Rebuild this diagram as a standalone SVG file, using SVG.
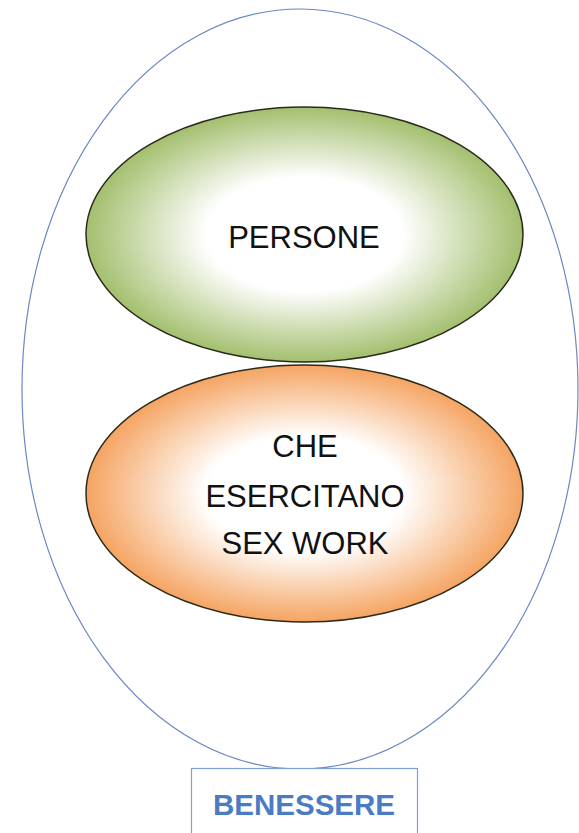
<svg xmlns="http://www.w3.org/2000/svg" width="579" height="833" viewBox="0 0 579 833">
<style>
.lbl{font-family:"Liberation Sans",Arial,sans-serif;font-size:31px;fill:#111;text-anchor:middle}
.ben{font-family:"Liberation Sans",Arial,sans-serif;font-size:29.5px;font-weight:bold;fill:#4a7cc4;text-anchor:middle}
.inner{stroke:#2a2a1a;stroke-width:1.5}
</style>
<defs>
<radialGradient id="gGreen" cx="50%" cy="50%" r="50%">
<stop offset="0" stop-color="#ffffff"/>
<stop offset="0.45" stop-color="#ffffff"/>
<stop offset="1" stop-color="#a3bf6e"/>
</radialGradient>
<radialGradient id="gOrange" cx="50%" cy="50%" r="50%">
<stop offset="0" stop-color="#ffffff"/>
<stop offset="0.45" stop-color="#ffffff"/>
<stop offset="1" stop-color="#f5a462"/>
</radialGradient>
</defs>
<rect width="579" height="833" fill="#ffffff"/>
<g id="benessere-area">
<ellipse cx="300" cy="389" rx="278" ry="380" fill="none" stroke="#6a87c6" stroke-width="1.2"/>
</g>
<g id="persone">
<ellipse class="inner" cx="304.5" cy="234.5" rx="218.5" ry="127.5" fill="url(#gGreen)"/>
<text class="lbl" x="304" y="248">PERSONE</text>
</g>
<g id="sexwork">
<ellipse class="inner" cx="304.5" cy="493.5" rx="218.5" ry="128.5" fill="url(#gOrange)"/>
<text class="lbl" x="305" y="457">CHE</text>
<text class="lbl" x="305" y="507">ESERCITANO</text>
<text class="lbl" x="305" y="554">SEX WORK</text>
</g>
<g id="benessere">
<rect x="191.5" y="768.5" width="226" height="70" fill="#ffffff" stroke="#7f9fd0" stroke-width="1.2"/>
<text class="ben" x="304" y="815">BENESSERE</text>
</g>
<g id="connectors"/>
</svg>
